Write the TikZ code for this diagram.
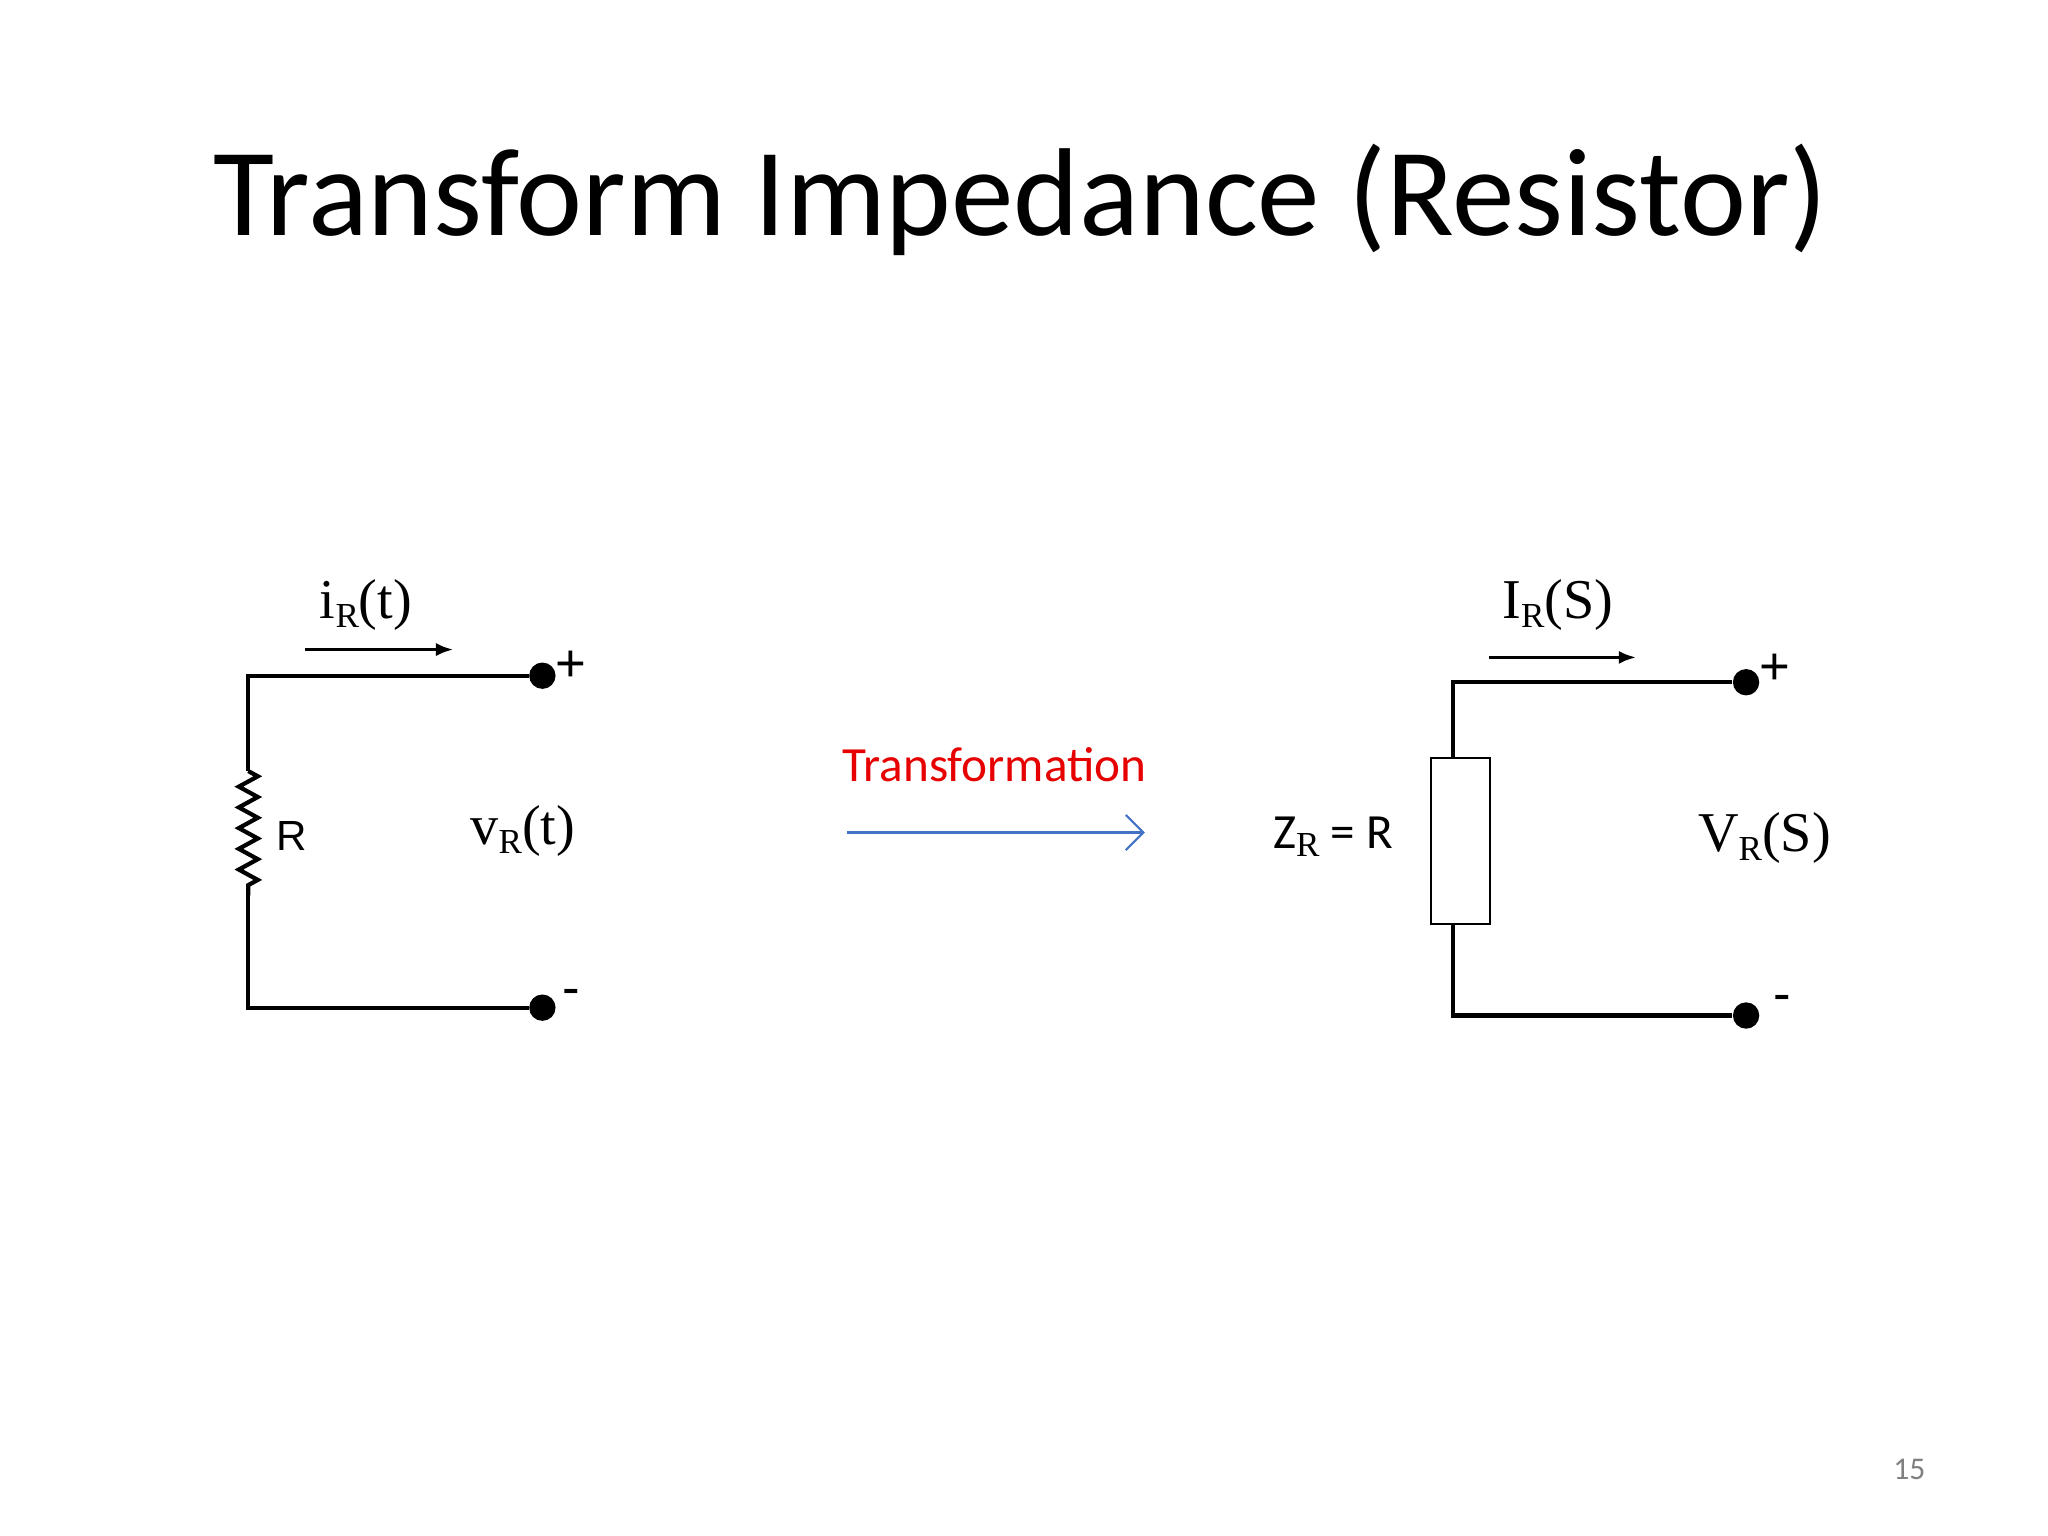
\documentclass[tikz,border=0pt]{standalone}
\usepackage{fontspec}
\setmainfont{Carlito}
\newfontfamily\tnr{Liberation Serif}
\newfontfamily\ars{Liberation Sans}
\usetikzlibrary{arrows.meta,decorations.pathmorphing}
\newcommand{\mysub}[1]{\raisebox{-0.35ex}{\tnr\fontsize{10}{12}\selectfont #1}}
\begin{document}
\begin{tikzpicture}[x=0.01307cm,y=-0.01307cm,
  wire/.style={line width=1.2pt,black},
  term/.style={circle,fill=black,inner sep=0pt,minimum size=7.5pt},
  serif/.style={font=\tnr\fontsize{16}{20}\selectfont,inner sep=0pt},
  sans/.style={font=\fontsize{14}{17}\selectfont,inner sep=0pt}]
\useasboundingbox (0,0) rectangle (1567,1175);
\fill[white] (0,0) rectangle (1567,1175);
\node[font=\fontsize{35.6}{42}\selectfont] (title) at (781,153) {Transform Impedance (Resistor)};
% left circuit
\node[term] (lp) at (415,517) {};
\node[term] (lm) at (415,771) {};
\coordinate (ltl) at (190,517);
\coordinate (lbl) at (190,771);
\coordinate (lr1) at (190,590);
\coordinate (lr2) at (190,685);
\draw[wire] (lp) -- (ltl) -- (lr1);
\draw[wire,decoration={zigzag,segment length=5.9pt,amplitude=2.7pt},decorate] (lr1) -- (lr2);
\draw[wire] (lr2) -- (lbl) -- (lm);
\node[font=\ars\fontsize{12}{14}\selectfont] (rl) at (223,640) {R};
\node[font=\ars\fontsize{15}{17}\selectfont] (lpl) at (437,510) {+};
\node[font=\ars\fontsize{15}{17}\selectfont] (lml) at (437,763) {-};
\coordinate (la1) at (233,497); \coordinate (la2) at (347,497);
\draw[line width=1pt,-{Latex[length=5pt]}] (la1) -- (la2);
\node[serif] (il) at (280,463) {i\mysub{R}(t)};
\node[serif] (vl) at (400,636) {v\mysub{R}(t)};
% transformation
\node[text={rgb,255:red,230;green,0;blue,0},font=\fontsize{14}{17}\selectfont,inner sep=0pt] (tr) at (761,585) {Transformation};
\coordinate (ta1) at (648,637); \coordinate (ta2) at (876,637);
\draw[color={rgb,255:red,68;green,114;blue,196},line width=0.6pt,-{Straight Barb[length=5pt]}] (ta1) -- (ta2);
% right circuit
\node[term] (rp) at (1336,522) {};
\node[term] (rm) at (1336,777) {};
\path[draw,line width=0.7pt] (1095,580) rectangle (1140,707);
\coordinate (rtl) at (1112,522);
\coordinate (rbl) at (1112,777);
\coordinate (rb1) at (1112,580);
\coordinate (rb2) at (1112,707);
\draw[wire] (rp) -- (rtl) -- (rb1);
\draw[wire] (rb2) -- (rbl) -- (rm);
\node[font=\ars\fontsize{15}{17}\selectfont] (rpl) at (1358,512) {+};
\node[font=\ars\fontsize{15}{17}\selectfont] (rml) at (1364,768) {-};
\coordinate (ra1) at (1139,503); \coordinate (ra2) at (1252,503);
\draw[line width=1pt,-{Latex[length=5pt]}] (ra1) -- (ra2);
\node[serif] (Il) at (1192,463) {I\mysub{R}(S)};
\node[serif] (Vl) at (1350,641) {V\mysub{R}(S)};
\node[sans] (zl) at (1020,640) {Z\mysub{R} = R};
\node[font=\fontsize{9}{11}\selectfont,text=gray] (pg) at (1461,1124) {15};
\end{tikzpicture}
\end{document}
